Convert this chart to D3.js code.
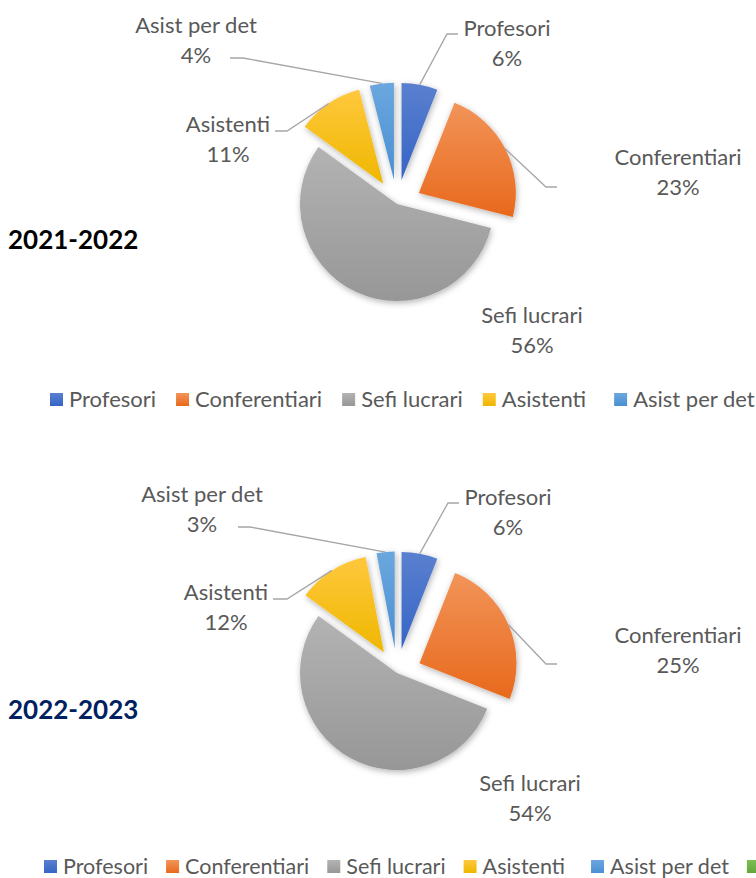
<!DOCTYPE html>
<html>
<head>
<meta charset="utf-8">
<script src="https://cdn.jsdelivr.net/npm/d3@7"></script>
<style>
  body { margin: 0; background: #fff; }
  text { font-family: Lato, "Noto Sans", sans-serif; }
</style>
</head>
<body>
<script>
// DATA
const categories = ['Profesori', 'Conferentiari', 'Sefi lucrari', 'Asistenti', 'Asist per det', 'Altele'];
const values2021 = [6, 23, 56, 11, 4];
const values2022 = [6, 25, 54, 12, 3, 0];
const titles = ['2021-2022', '2022-2023'];

// CONFIGURATION
const width = 756;
const height = 878;
const radius = 97;
const explode = [24.5, 24.5, 0, 24.5, 24.5, 24.5];
const colors = [
	['#5a80cf', '#3565c6'],
	['#f29459', '#e8691c'],
	['#b3b3b3', '#979797'],
	['#ffc83d', '#efb700'],
	['#6ba7de', '#4a8fd3'],
	['#7fbf55', '#62a63a']
];

// label layout: text centre x, first baseline y, end of the leader's flat part, elbow
const charts = [
	{
		values: values2021,
		center: [397, 204],
		title: { y: 249, color: '#000000' },
		legend: { x: 50, y: 407, size: 22, gap: 20, wideGap: 28 },
		labels: [
			{ x: 507, y: 36, end: [458, 34], elbow: [447, 34] },
			{ x: 678, y: 165, end: [557, 187], elbow: [546, 187] },
			{ x: 532, y: 323 },
			{ x: 228, y: 132, end: [275, 131], elbow: [287, 131] },
			{ x: 196, y: 33, end: [230, 58], elbow: [243, 58] }
		]
	},
	{
		values: values2022,
		center: [397, 673],
		title: { y: 719, color: '#002060' },
		legend: { x: 44, y: 874, size: 21.5, gap: 18, wideGap: 26 },
		labels: [
			{ x: 508, y: 505, end: [459, 503], elbow: [448, 503] },
			{ x: 678, y: 643, end: [557, 664], elbow: [546, 664] },
			{ x: 530, y: 791 },
			{ x: 226, y: 600, end: [273, 599], elbow: [287, 599] },
			{ x: 202, y: 502, end: [238, 527], elbow: [250, 527] }
		]
	}
];

const svg = d3.select('body')
	.append('svg')
	.attr('width', width)
	.attr('height', height);

// GRADIENTS & SHADOW
const defs = svg.append('defs');
colors.forEach((c, i) => {
	const g = defs.append('linearGradient')
		.attr('id', 'grad' + i)
		.attr('x1', 0).attr('y1', 0)
		.attr('x2', 0).attr('y2', 1);
	g.append('stop').attr('offset', '0%').attr('stop-color', c[0]);
	g.append('stop').attr('offset', '100%').attr('stop-color', c[1]);
});
const shadow = defs.append('filter')
	.attr('id', 'shadow')
	.attr('x', '-20%').attr('y', '-20%')
	.attr('width', '140%').attr('height', '140%');
shadow.append('feDropShadow')
	.attr('dx', 1).attr('dy', 2)
	.attr('stdDeviation', 3)
	.attr('flood-color', '#000')
	.attr('flood-opacity', 0.3);

const pie = d3.pie().sort(null).value(d => d);
const arc = d3.arc().innerRadius(0).outerRadius(radius);
const pointAt = (angle, r) => [Math.sin(angle) * r, -Math.cos(angle) * r];

charts.forEach((chart, ci) => {
	const total = d3.sum(chart.values);
	const arcs = pie(chart.values);

	// TITLE
	svg.append('text')
		.attr('x', 8)
		.attr('y', chart.title.y)
		.attr('font-size', 26)
		.attr('font-weight', 'bold')
		.attr('fill', chart.title.color)
		.text(titles[ci]);

	// SLICES
	const g = svg.append('g')
		.attr('transform', `translate(${chart.center[0]}, ${chart.center[1]})`);
	g.selectAll('path')
		.data(arcs.filter(a => a.value > 0))
		.enter()
		.append('path')
		.attr('transform', a => {
			const mid = (a.startAngle + a.endAngle) / 2;
			const p = pointAt(mid, explode[a.index]);
			return `translate(${p[0]}, ${p[1]})`;
		})
		.attr('d', arc)
		.attr('fill', a => `url(#grad${a.index})`)
		.attr('filter', 'url(#shadow)');

	// LABELS & LEADER LINES
	chart.labels.forEach((lab, i) => {
		const a = arcs[i];
		if (lab.end) {
			const mid = (a.startAngle + a.endAngle) / 2;
			const p = pointAt(mid, radius + explode[i]);
			const start = [chart.center[0] + p[0], chart.center[1] + p[1]];
			svg.append('path')
				.attr('d', d3.line()([start, lab.elbow, lab.end]))
				.attr('fill', 'none')
				.attr('stroke', '#a6a6a6')
				.attr('stroke-width', 1.3);
		}
		const t = svg.append('text')
			.attr('text-anchor', 'middle')
			.attr('font-size', 22)
			.attr('fill', '#595959');
		t.append('tspan')
			.attr('x', lab.x)
			.attr('y', lab.y)
			.text(categories[i]);
		t.append('tspan')
			.attr('x', lab.x)
			.attr('y', lab.y + 30)
			.text(Math.round(a.value / total * 100) + '%');
	});

	// LEGEND (entries past the right edge keep only their swatch, as in the original)
	const legend = svg.append('g');
	let x = chart.legend.x;
	chart.values.forEach((v, i) => {
		legend.append('rect')
			.attr('x', x)
			.attr('y', chart.legend.y - 14)
			.attr('width', 13)
			.attr('height', 13)
			.attr('fill', `url(#grad${i})`);
		if (x + 19 >= width) return;
		const t = legend.append('text')
			.attr('x', x + 19)
			.attr('y', chart.legend.y)
			.attr('font-size', chart.legend.size)
			.attr('fill', '#595959')
			.text(categories[i]);
		x += 19 + t.node().getComputedTextLength() + (i === 3 ? chart.legend.wideGap : chart.legend.gap);
	});
});
</script>
</body>
</html>
